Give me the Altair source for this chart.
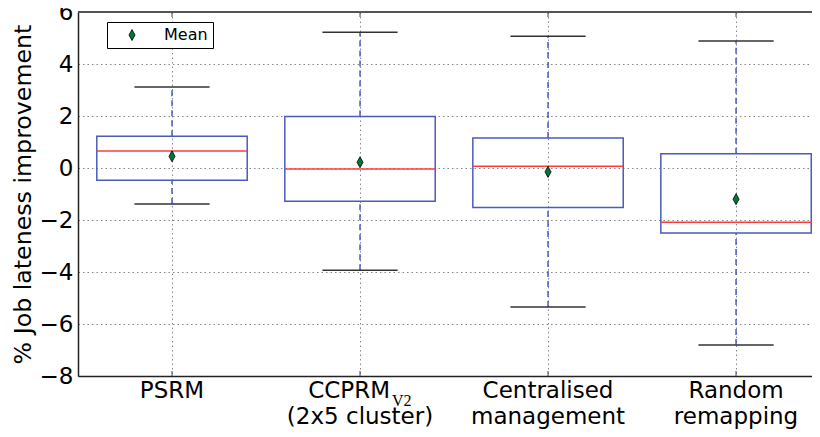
import altair as alt
import pandas as pd

# ---- data ----
categories = ["PSRM", "CCPRM", "Centralised", "Random"]
positions = [1, 2, 3, 4]
whisker_low = [-1.38, -3.93, -5.35, -6.81]
q1 = [-0.47, -1.28, -1.52, -2.50]
median = [0.65, -0.04, 0.07, -2.09]
q3 = [1.22, 1.98, 1.15, 0.55]
whisker_high = [3.12, 5.22, 5.07, 4.88]
means = [0.45, 0.22, -0.15, -1.20]

label_line1 = ["PSRM", "CCPRM", "Centralised", "Random"]
label_sub = ["", "V2", "", ""]
label_line2 = ["", "(2x5 cluster)", "management", "remapping"]
y_ticks = [-8, -6, -4, -2, 0, 2, 4, 6]

df = pd.DataFrame({
    "cat": categories, "pos": positions, "wlo": whisker_low, "q1": q1,
    "med": median, "q3": q3, "whi": whisker_high, "mean": means,
    "line1": label_line1, "sub": label_sub, "line2": label_line2,
    "series": ["Mean"] * 4,
})

W, H = 734, 364
BLUE = "#4a5bc0"
FONT = "DejaVu Sans"
FS = 23
DIAMOND = "M0,-1L0.55,0L0,1L-0.55,0Z"

xscale = alt.Scale(domain=[0.5, 4.404], nice=False, zero=False)
yscale = alt.Scale(domain=[-8, 6], nice=False, zero=False)
xaxis = alt.Axis(values=positions, labels=False, ticks=False, grid=True,
                 gridDash=[1.5, 3], gridColor="#888", gridWidth=1,
                 domainColor="#222", domainWidth=1.5, title=None)
yaxis = alt.Axis(values=y_ticks, grid=True, gridDash=[1.5, 3], gridColor="#888",
                 gridWidth=1, ticks=False, labelFontSize=FS, labelFont=FONT,
                 labelColor="black", labelPadding=5, domainColor="#222",
                 domainWidth=1.5, title="% Job lateness improvement",
                 titleFontSize=23.7, titleFont=FONT, titleFontWeight="normal",
                 titleColor="black", titleX=-55, titleY=H / 2, titleAngle=270,
                 titleBaseline="middle", titleAlign="center",
                 labelExpr="replace(datum.label, '-', '\u2212')")


def X(f):
    return alt.X(f, type="quantitative", scale=xscale, axis=xaxis)


def Y(f):
    return alt.Y(f, type="quantitative", scale=yscale, axis=yaxis)


base = alt.Chart(df).transform_calculate(
    left="datum.pos - 0.4", right="datum.pos + 0.4",
    capl="datum.pos - 0.2", capr="datum.pos + 0.2",
)

boxes = base.mark_rect(fill=None, stroke=BLUE, strokeWidth=1.5).encode(
    x=X("left"), x2="right:Q", y=Y("q1"), y2="q3:Q")
medians = base.mark_rule(color="#ff3b3b", strokeWidth=1.5).encode(
    x=X("left"), x2="right:Q", y=Y("med"))
whisk_hi = base.mark_rule(color=BLUE, strokeWidth=1.5, strokeDash=[6, 4]).encode(
    x=X("pos"), y=Y("q3"), y2="whi:Q")
whisk_lo = base.mark_rule(color=BLUE, strokeWidth=1.5, strokeDash=[6, 4]).encode(
    x=X("pos"), y=Y("wlo"), y2="q1:Q")
cap_hi = base.mark_rule(color="#333", strokeWidth=1.5).encode(
    x=X("capl"), x2="capr:Q", y=Y("whi"))
cap_lo = base.mark_rule(color="#333", strokeWidth=1.5).encode(
    x=X("capl"), x2="capr:Q", y=Y("wlo"))

mean_pts = base.mark_point(shape=DIAMOND, size=121, filled=True, stroke="black",
                           strokeWidth=0.8, opacity=1).encode(
    x=X("pos"), y=Y("mean"),
    fill=alt.Fill("series:N", scale=alt.Scale(domain=["Mean"], range=["#007a33"]),
                  legend=alt.Legend(orient="none", legendX=29, legendY=10, title=None,
                                    strokeColor="black", fillColor="white", padding=5,
                                    cornerRadius=0, symbolType=DIAMOND, symbolSize=121,
                                    symbolStrokeColor="black", symbolStrokeWidth=0.8,
                                    symbolOffset=12, labelOffset=24, labelFontSize=16,
                                    labelFont=FONT, labelColor="black")))

ticks_bottom = base.mark_rule(color="#444", strokeWidth=1).encode(
    x=X("pos"), y=alt.value(H), y2=alt.value(H - 5))
ticks_top = base.mark_rule(color="#444", strokeWidth=1).encode(
    x=X("pos"), y=alt.value(0), y2=alt.value(5))
top_spine = alt.Chart(df).mark_rule(color="#555", strokeWidth=1.5).encode(
    x=alt.value(0), x2=alt.value(W), y=alt.value(0))

lab1 = base.transform_filter("datum.sub == ''").mark_text(
    font=FONT, fontSize=FS, color="black", baseline="alphabetic", align="center").encode(
    x=X("pos"), y=alt.value(H + 22), text="line1:N")
lab1s = base.transform_filter("datum.sub != ''").mark_text(
    font=FONT, fontSize=FS, color="black", baseline="alphabetic", align="right", dx=30).encode(
    x=X("pos"), y=alt.value(H + 22), text="line1:N")
labsub = base.transform_filter("datum.sub != ''").mark_text(
    font="Liberation Serif", fontSize=16, color="black", baseline="alphabetic",
    align="left", dx=32).encode(
    x=X("pos"), y=alt.value(H + 30), text="sub:N")
lab2 = base.transform_filter("datum.line2 != ''").mark_text(
    font=FONT, fontSize=FS, color="black", baseline="alphabetic", align="center").encode(
    x=X("pos"), y=alt.value(H + 48), text="line2:N")

chart = alt.layer(
    boxes, whisk_hi, whisk_lo, cap_hi, cap_lo, medians, mean_pts,
    ticks_bottom, ticks_top, top_spine, lab1, lab1s, labsub, lab2
).properties(
    width=W, height=H,
    autosize=alt.AutoSizeParams(type="none"),
    padding={"left": 70, "top": 4, "right": 0, "bottom": 60},
).configure_view(stroke=None).configure(background="white")

chart.save("out.html", embed_options={"renderer": "svg", "actions": False})
